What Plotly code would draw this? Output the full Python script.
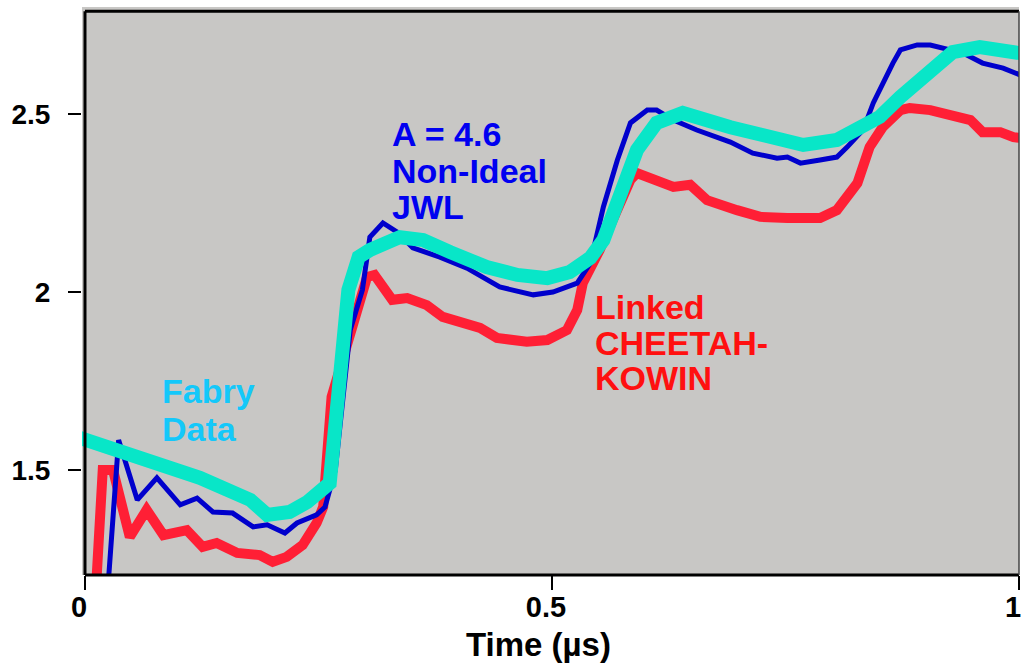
import plotly.graph_objects as go

# Fabry data (cyan)
fabry_t = [-0.009, 0.070, 0.123, 0.177, 0.195, 0.219, 0.238, 0.262, 0.270, 0.282, 0.293, 0.305,
           0.337, 0.362, 0.391, 0.430, 0.463, 0.495, 0.519, 0.541, 0.555, 0.565, 0.580, 0.591,
           0.612, 0.640, 0.691, 0.730, 0.769, 0.805, 0.833, 0.851, 0.873, 0.905, 0.929, 0.958, 1.001]
fabry_v = [1.593, 1.528, 1.478, 1.416, 1.374, 1.382, 1.410, 1.463, 1.705, 2.006, 2.098, 2.118,
           2.154, 2.146, 2.112, 2.070, 2.048, 2.039, 2.056, 2.096, 2.146, 2.222, 2.334, 2.399,
           2.475, 2.503, 2.463, 2.435, 2.413, 2.427, 2.461, 2.492, 2.548, 2.624, 2.674, 2.688, 2.671]

# A = 4.6 Non-Ideal JWL (blue)
jwl_t = [0.024, 0.036, 0.056, 0.077, 0.102, 0.120, 0.137, 0.158, 0.180, 0.195, 0.214, 0.227,
         0.248, 0.257, 0.268, 0.284, 0.297, 0.305, 0.319, 0.334, 0.351, 0.380, 0.409, 0.444,
         0.480, 0.501, 0.527, 0.541, 0.555, 0.570, 0.584, 0.602, 0.612, 0.630, 0.655, 0.691,
         0.715, 0.741, 0.752, 0.766, 0.787, 0.805, 0.816, 0.833, 0.844, 0.854, 0.865, 0.873,
         0.891, 0.905, 0.919, 0.940, 0.961, 0.983, 1.001]
jwl_v = [1.150, 1.584, 1.416, 1.478, 1.402, 1.421, 1.382, 1.379, 1.340, 1.346, 1.323, 1.351,
         1.374, 1.396, 1.500, 1.893, 2.006, 2.154, 2.194, 2.169, 2.124, 2.098, 2.067, 2.014,
         1.992, 2.000, 2.025, 2.081, 2.239, 2.371, 2.475, 2.511, 2.511, 2.483, 2.455, 2.421,
         2.390, 2.376, 2.379, 2.362, 2.371, 2.379, 2.407, 2.455, 2.531, 2.587, 2.643, 2.680,
         2.694, 2.694, 2.685, 2.671, 2.643, 2.629, 2.610]

# Linked CHEETAH-KOWIN (red)
ck_t = [0.011, 0.019, 0.030, 0.048, 0.066, 0.084, 0.109, 0.126, 0.141, 0.163, 0.187, 0.201,
        0.216, 0.233, 0.248, 0.255, 0.264, 0.287, 0.302, 0.310, 0.329, 0.345, 0.366, 0.383,
        0.423, 0.441, 0.473, 0.495, 0.516, 0.527, 0.533, 0.551, 0.573, 0.584, 0.591, 0.612,
        0.630, 0.648, 0.666, 0.698, 0.723, 0.752, 0.787, 0.805, 0.827, 0.840, 0.854, 0.873,
        0.883, 0.905, 0.923, 0.948, 0.961, 0.980, 0.994, 1.001]
ck_v = [1.130, 1.500, 1.500, 1.312, 1.388, 1.317, 1.331, 1.284, 1.295, 1.267, 1.261, 1.242,
        1.256, 1.289, 1.351, 1.396, 1.705, 1.913, 2.042, 2.048, 1.978, 1.983, 1.963, 1.930,
        1.899, 1.871, 1.860, 1.865, 1.893, 1.949, 2.025, 2.118, 2.258, 2.315, 2.334, 2.315,
        2.295, 2.301, 2.258, 2.230, 2.211, 2.208, 2.208, 2.230, 2.306, 2.407, 2.463, 2.511,
        2.517, 2.511, 2.497, 2.483, 2.449, 2.449, 2.435, 2.433]

x_ticks = [0, 0.5, 1]
x_tick_text = ["0", "0.5", "1"]
y_ticks = [1.5, 2, 2.5]
y_tick_text = ["1.5", "2", "2.5"]
x_title = "Time (µs)"

# Label lines: (text, x, y)
fabry_label = [("Fabry", 0.080, 1.722), ("Data", 0.080, 1.615)]
jwl_label = [("A = 4.6", 0.327, 2.445), ("Non-Ideal", 0.327, 2.341), ("JWL", 0.327, 2.240)]
ck_label = [("Linked", 0.544, 1.959), ("CHEETAH-", 0.544, 1.858), ("KOWIN", 0.544, 1.758)]

X_RANGE = [-0.0032, 1.0]
Y_RANGE = [1.205, 2.8006]
FONT = "Liberation Sans, Arial, sans-serif"

fig = go.Figure()
fig.add_trace(go.Scatter(x=ck_t, y=ck_v, mode="lines",
                         line=dict(color="#FF1F35", width=10), name="Linked CHEETAH-KOWIN"))
fig.add_trace(go.Scatter(x=jwl_t, y=jwl_v, mode="lines",
                         line=dict(color="#0000CC", width=5), name="A = 4.6 Non-Ideal JWL"))
fig.add_trace(go.Scatter(x=fabry_t, y=fabry_v, mode="lines",
                         line=dict(color="#08E6C8", width=14), name="Fabry Data"))

fig.update_layout(
    width=1021, height=669,
    margin=dict(l=82, r=2, t=7, b=94, autoexpand=False),
    paper_bgcolor="white",
    plot_bgcolor="#C8C7C5",
    showlegend=False,
    font=dict(family=FONT, color="black"),
    xaxis=dict(range=X_RANGE, tickvals=x_ticks, ticktext=x_tick_text,
               showgrid=False, zeroline=False, showline=False, automargin=False,
               ticks="outside", ticklen=14, tickwidth=2, tickcolor="black",
               ticklabelstandoff=-8, ticklabelshift=-6, ticklabeloverflow="allow",
               tickfont=dict(size=29, family=FONT, weight="bold")),
    yaxis=dict(range=Y_RANGE, tickvals=y_ticks, ticktext=y_tick_text,
               showgrid=False, zeroline=False, showline=False, automargin=False,
               ticks="outside", ticklen=13, tickwidth=2, tickcolor="black",
               ticklabelstandoff=12,
               tickfont=dict(size=28, family=FONT, weight="bold")),
)

# Frame lines
fig.add_shape(type="line", xref="x", yref="y", x0=0, x1=0, y0=Y_RANGE[0], y1=2.789,
              line=dict(color="black", width=3))
fig.add_shape(type="line", xref="x", yref="y", x0=0, x1=1.0, y0=2.789, y1=2.789,
              line=dict(color="black", width=3))
fig.add_shape(type="line", xref="x", yref="paper", x0=0, x1=1.0, y0=0, y1=0,
              line=dict(color="black", width=3))
fig.add_shape(type="line", xref="paper", yref="y", x0=1, x1=1, y0=Y_RANGE[0], y1=2.789,
              line=dict(color="#444444", width=1.5))

ann_font = 34
for labels, color in [(fabry_label, "#14C8FA"), (jwl_label, "#0000F0"), (ck_label, "#FF1010")]:
    for text, lx, ly in labels:
        fig.add_annotation(x=lx, y=ly, xref="x", yref="y", xanchor="left", yanchor="middle",
                           text="<b>" + text + "</b>", showarrow=False, align="left",
                           font=dict(size=ann_font, color=color, family=FONT))

fig.add_annotation(x=0.486, y=-0.123, xref="x", yref="paper", xanchor="center", yanchor="middle",
                   text="<b>" + x_title + "</b>", showarrow=False,
                   font=dict(size=33, color="black", family=FONT))

fig.write_html("out.html", config={"displayModeBar": False})

# Remove the browser's default page margin so the figure sits at the window origin
with open("out.html", "r", encoding="utf-8") as f:
    html = f.read()
html = html.replace("<head>", "<head><style>html,body{margin:0;padding:0;overflow:hidden;}</style>", 1)
with open("out.html", "w", encoding="utf-8") as f:
    f.write(html)
